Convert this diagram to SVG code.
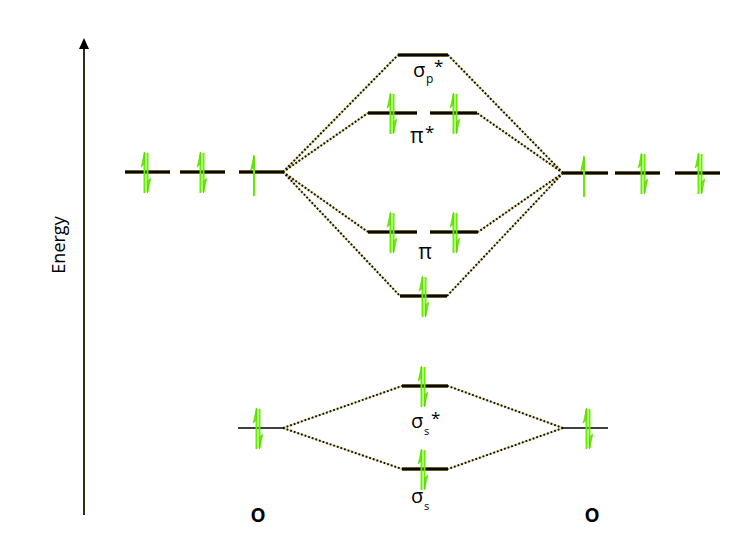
<svg xmlns="http://www.w3.org/2000/svg" xmlns:xlink="http://www.w3.org/1999/xlink" width="750" height="546" viewBox="0 0 750 546">
<style>
.lvl{stroke:#c9b56a;stroke-width:4.2;stroke-linecap:butt}
.lvk{stroke:#0a0800;stroke-width:2.8;stroke-linecap:butt}
.thin{stroke:#000;stroke-width:1.6}
.dotb{stroke:#e6d88e;stroke-width:1.8;fill:none}
.dotk{stroke:#111;stroke-width:2;stroke-dasharray:1.8 2;fill:none}
.e{stroke:#66ee00;stroke-width:2;fill:none}
.eh{fill:#66ee00;stroke:#55cc00;stroke-width:0.6}
.lbl{font-family:"Open Sans","DejaVu Sans",sans-serif;fill:#000}
</style>
<defs>
<g id="up"><line class="e" x1="-1.5" y1="21" x2="-1.5" y2="-19"/><polygon class="eh" points="-1.5,-20 -4.8,-5 -1.5,-8"/></g>
<g id="dn"><line class="e" x1="1.5" y1="-19" x2="1.5" y2="20"/><polygon class="eh" points="1.5,21 4.8,6 1.5,9"/></g>
<g id="pair"><use xlink:href="#up"/><use xlink:href="#dn"/></g>
</defs>
<rect width="750" height="546" fill="#fff"/>

<g id="energy-axis">
<line x1="84" y1="515" x2="84" y2="40" stroke="#1a1400" stroke-width="1.8"/>
<polygon points="84,38 79,49 89,49" fill="#000"/>
<text class="lbl" x="0" y="0" font-size="18" text-anchor="middle" transform="translate(65,245) rotate(-90)">Energy</text>
</g>

<g id="connectors">
<path class="dotb" d="M283,172 L398,55 M283,172 L368,113 M283,172 L368,232 M283,172 L400,296 M563,173 L448,55 M563,173 L477,113 M563,173 L478,232 M563,173 L447,296 M283,428 L402,386 M283,428 L402,469 M563,428 L448,386 M563,428 L448,469"/>
<path class="dotk" d="M283,172 L398,55 M283,172 L368,113 M283,172 L368,232 M283,172 L400,296 M563,173 L448,55 M563,173 L477,113 M563,173 L478,232 M563,173 L447,296 M283,428 L402,386 M283,428 L402,469 M563,428 L448,386 M563,428 L448,469"/>
</g>

<g id="left-2p">
<line class="lvl" x1="125" y1="172" x2="170" y2="172"/><line class="lvk" x1="125" y1="172" x2="170" y2="172"/>
<line class="lvl" x1="180" y1="172" x2="225" y2="172"/><line class="lvk" x1="180" y1="172" x2="225" y2="172"/>
<line class="lvl" x1="239" y1="172" x2="283" y2="172"/><line class="lvk" x1="239" y1="172" x2="283" y2="172"/>
<use xlink:href="#pair" x="146" y="172"/>
<use xlink:href="#pair" x="202" y="172"/>
<use xlink:href="#up" x="255.5" y="175"/>
</g>

<g id="right-2p">
<line class="lvl" x1="563" y1="173" x2="608" y2="173"/><line class="lvk" x1="563" y1="173" x2="608" y2="173"/>
<line class="lvl" x1="615" y1="173" x2="660" y2="173"/><line class="lvk" x1="615" y1="173" x2="660" y2="173"/>
<line class="lvl" x1="675" y1="173" x2="720" y2="173"/><line class="lvk" x1="675" y1="173" x2="720" y2="173"/>
<use xlink:href="#up" x="585.5" y="176"/>
<use xlink:href="#pair" x="643" y="173"/>
<use xlink:href="#pair" x="700" y="173"/>
</g>

<g id="sigma-p-star">
<line class="lvl" x1="398" y1="55" x2="448" y2="55"/><line class="lvk" x1="398" y1="55" x2="448" y2="55"/>
<text class="lbl" x="413" y="77" font-size="20">σ</text>
<text class="lbl" x="426" y="83" font-size="12">p</text>
<text class="lbl" x="434" y="72" font-size="17">*</text>
</g>

<g id="pi-star">
<line class="lvl" x1="368" y1="113" x2="417" y2="113"/><line class="lvk" x1="368" y1="113" x2="417" y2="113"/>
<line class="lvl" x1="430" y1="113" x2="477" y2="113"/><line class="lvk" x1="430" y1="113" x2="477" y2="113"/>
<use xlink:href="#pair" x="392" y="113"/>
<use xlink:href="#pair" x="455" y="113"/>
<text class="lbl" x="410" y="143" font-size="21">π</text>
<text class="lbl" x="425" y="138" font-size="17">*</text>
</g>

<g id="pi">
<line class="lvl" x1="368" y1="232" x2="417" y2="232"/><line class="lvk" x1="368" y1="232" x2="417" y2="232"/>
<line class="lvl" x1="430" y1="232" x2="478" y2="232"/><line class="lvk" x1="430" y1="232" x2="478" y2="232"/>
<use xlink:href="#pair" x="392" y="232"/>
<use xlink:href="#pair" x="455" y="232"/>
<text class="lbl" x="425" y="259" font-size="21" text-anchor="middle">π</text>
</g>

<g id="sigma-p">
<line class="lvl" x1="400" y1="296" x2="447" y2="296"/><line class="lvk" x1="400" y1="296" x2="447" y2="296"/>
<use xlink:href="#pair" x="424" y="296"/>
</g>

<g id="sigma-s-star">
<line class="lvl" x1="402" y1="386" x2="448" y2="386"/><line class="lvk" x1="402" y1="386" x2="448" y2="386"/>
<use xlink:href="#pair" x="423" y="386"/>
<text class="lbl" x="411" y="428" font-size="20">σ</text>
<text class="lbl" x="424" y="435" font-size="11">s</text>
<text class="lbl" x="431" y="424" font-size="17">*</text>
</g>

<g id="sigma-s">
<line class="lvl" x1="402" y1="469" x2="448" y2="469"/><line class="lvk" x1="402" y1="469" x2="448" y2="469"/>
<use xlink:href="#pair" x="423" y="469"/>
<text class="lbl" x="411" y="503" font-size="20">σ</text>
<text class="lbl" x="424" y="510" font-size="11">s</text>
</g>

<g id="left-2s">
<line class="thin" x1="238" y1="428" x2="283" y2="428"/>
<use xlink:href="#pair" x="258" y="428"/>
</g>

<g id="right-2s">
<line class="thin" x1="563" y1="428" x2="608" y2="428"/>
<use xlink:href="#pair" x="588" y="428"/>
</g>

<g id="label-left-O"><text class="lbl" x="258" y="522" font-size="19" font-weight="bold" text-anchor="middle">O</text></g>
<g id="label-right-O"><text class="lbl" x="592" y="522" font-size="19" font-weight="bold" text-anchor="middle">O</text></g>
</svg>
